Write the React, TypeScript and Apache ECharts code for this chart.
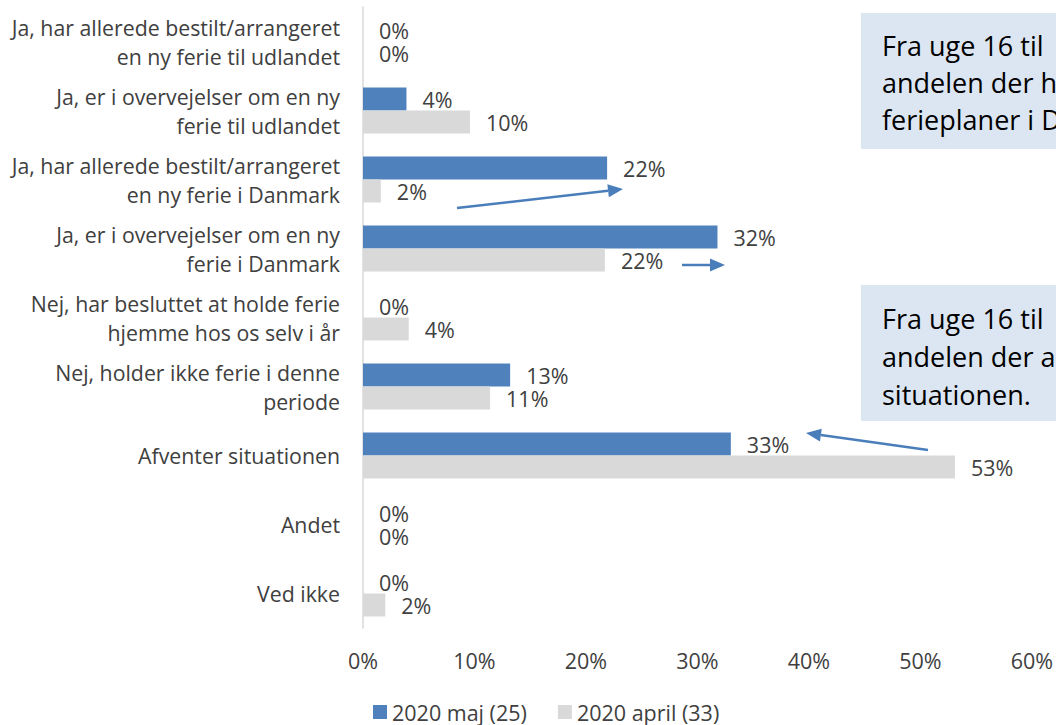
import React, { useEffect, useRef } from "react";
import * as echarts from "echarts";

const categories = [
  "Ja, har allerede bestilt/arrangeret\nen ny ferie til udlandet",
  "Ja, er i overvejelser om en ny\nferie til udlandet",
  "Ja, har allerede bestilt/arrangeret\nen ny ferie i Danmark",
  "Ja, er i overvejelser om en ny\nferie i Danmark",
  "Nej, har besluttet at holde ferie\nhjemme hos os selv i år",
  "Nej, holder ikke ferie i denne\nperiode",
  "Afventer situationen",
  "Andet",
  "Ved ikke",
];
const seriesNames = ["2020 maj (25)", "2020 april (33)"];
const maj = [0, 3.9, 21.9, 31.8, 0, 13.2, 33.0, 0, 0];
const april = [0, 9.6, 1.6, 21.7, 4.1, 11.4, 53.1, 0, 2.0];
const xTicks = { min: 0, max: 60, interval: 10 };
const box1Lines = ["Fra uge 16 til", "andelen der h", "ferieplaner i D"];
const box2Lines = ["Fra uge 16 til", "andelen der a", "situationen."];

const FONT = "'Open Sans', sans-serif";
const TXT = "#404040";
const BLUE = "#4F81BD";
const GREY = "#D9D9D9";
const ARROW = "#4A7EBB";

function arrow(x1: number, y1: number, x2: number, y2: number) {
  const ang = Math.atan2(y2 - y1, x2 - x1);
  const len = 15;
  const half = 6.5;
  const bx = x2 - len * Math.cos(ang);
  const by = y2 - len * Math.sin(ang);
  const px = -Math.sin(ang) * half;
  const py = Math.cos(ang) * half;
  return [
    {
      type: "line",
      shape: { x1, y1, x2: bx, y2: by },
      style: { stroke: ARROW, lineWidth: 2.5 },
    },
    {
      type: "polygon",
      shape: {
        points: [
          [x2, y2],
          [bx + px, by + py],
          [bx - px, by - py],
        ],
      },
      style: { fill: ARROW },
    },
  ];
}

function textBox(x: number, y: number, w: number, h: number, lines: string[], lh: number, ty: number) {
  return [
    { type: "rect", shape: { x, y, width: w, height: h }, style: { fill: "#DCE6F2" } },
    ...lines.map((t, i) => ({
      type: "text",
      x: 882,
      y: ty + i * lh,
      style: { text: t, fill: "#000000", font: `27px ${FONT}`, textVerticalAlign: "middle" },
    })),
  ];
}

export default function App() {
  const ref = useRef<HTMLDivElement>(null);
  useEffect(() => {
    document.body.style.margin = "0";
    const chart = echarts.init(ref.current!, null, { renderer: "svg" });
    const label = {
      show: true,
      position: "right",
      distance: 16,
      color: TXT,
      fontFamily: FONT,
      fontSize: 21.5,
      lineHeight: 22,
      formatter: (p: any) => Math.round(p.value) + "%",
    };
    chart.setOption({
      animation: false,
      textStyle: { fontFamily: FONT },
      grid: { left: 363, right: 21, top: 7, bottom: 97, containLabel: false },
      legend: {
        left: 368,
        top: 696,
        itemWidth: 14,
        itemHeight: 14,
        itemGap: 31,
        icon: "rect",
        textStyle: { color: TXT, fontSize: 21.5, fontFamily: FONT },
        data: seriesNames,
      },
      xAxis: {
        type: "value",
        min: xTicks.min,
        max: xTicks.max,
        interval: xTicks.interval,
        axisLine: { show: false },
        axisTick: { show: false },
        splitLine: { show: false },
        axisLabel: { color: TXT, fontSize: 21.5, fontFamily: FONT, margin: 21, formatter: "{value}%" },
      },
      yAxis: {
        type: "category",
        inverse: true,
        data: categories,
        axisLine: { show: true, lineStyle: { color: GREY, width: 1.5 } },
        axisTick: { show: false },
        axisLabel: {
          color: TXT,
          fontSize: 21.3,
          fontFamily: FONT,
          margin: 23,
          lineHeight: 29,
          align: "right",
        },
      },
      series: [
        {
          name: seriesNames[0],
          type: "bar",
          data: maj,
          barWidth: 23,
          barGap: "0%",
          itemStyle: { color: BLUE },
          label,
        },
        {
          name: seriesNames[1],
          type: "bar",
          data: april,
          barWidth: 23,
          barGap: "0%",
          itemStyle: { color: GREY },
          label,
        },
      ],
      graphic: [
        ...textBox(861, 13, 260, 136, box1Lines, 37, 45),
        ...textBox(861, 285, 260, 136, box2Lines, 38, 318),
        ...arrow(457, 208, 623, 189),
        ...arrow(682, 265, 725, 265),
        ...arrow(928, 450, 806, 433),
      ],
    });
    return () => chart.dispose();
  }, []);
  return <div ref={ref} style={{ width: 1056, height: 725 }} />;
}
